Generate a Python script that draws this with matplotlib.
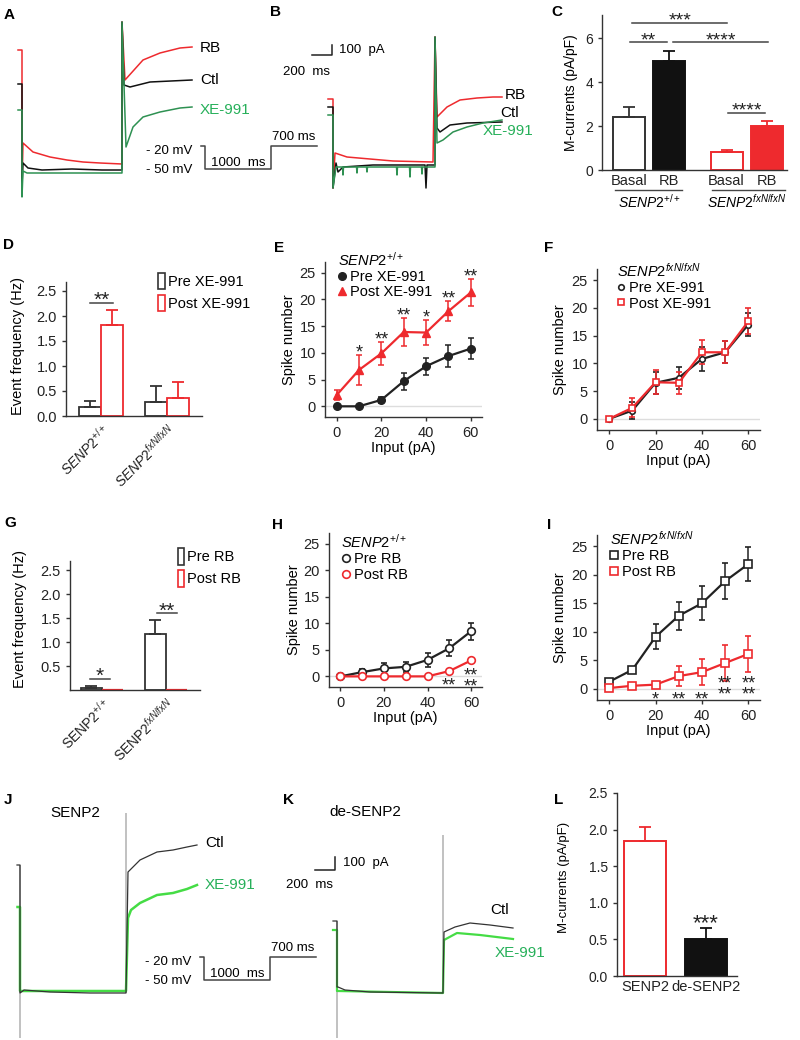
import numpy as np
import matplotlib
matplotlib.use('Agg')
import matplotlib.pyplot as plt
from matplotlib.patches import Patch
from matplotlib.lines import Line2D

plt.rcParams['font.family'] = ['Liberation Sans', 'DejaVu Sans']
plt.rcParams['mathtext.fontset'] = 'custom'
plt.rcParams['mathtext.rm'] = 'Liberation Sans'
plt.rcParams['mathtext.it'] = 'Liberation Sans:italic'
plt.rcParams['axes.linewidth'] = 1.0

RED = '#ee2a2e'
DARK = '#333333'
GREEN_DK = '#2e9152'
GREEN_TXT = '#27b05a'
GREEN_LT = '#45dc45'
GREY = '#b0b0b0'

WT = r'$\mathit{SENP2}^{\mathit{+/+}}$'
KO = r'$\mathit{SENP2}^{\mathit{fxN/fxN}}$'
WT_UP = r'SENP2$^{+/+}$'
KO_UP = r'SENP2$^{fxN/fxN}$'

# ---- traces (ms, pA) ----
# A: SENP2+/+ M-currents
a_red_t = [-40, 0, 0, 10, 110, 280, 450, 610, 780, 1000, 1000, 1030, 1210, 1380, 1580, 1700]
a_red_i = [1200, 1200, -150, 270, 180, 130, 100, 80, 70, 60, 1480, 900, 1100, 1170, 1220, 1230]
a_ctl_t = [-40, 0, 0, 10, 60, 200, 500, 800, 1000, 1000, 1020, 1080, 1280, 1700]
a_ctl_i = [860, 860, -150, 70, 20, 0, 10, 0, 0, 1480, 850, 830, 880, 900]
a_xe_t = [-40, 0, 0, 10, 50, 300, 1000, 1000, 1040, 1110, 1210, 1380, 1580, 1700]
a_xe_i = [600, 600, -270, -10, -30, -30, -30, 1480, 230, 430, 530, 580, 620, 630]

# B: SENP2fxN/fxN M-currents
b_red_t = [-50, 0, 0, 20, 140, 370, 600, 1000, 1020, 1040, 1140, 1270, 1440, 1600, 1690]
b_red_i = [660, 660, -230, 120, 80, 60, 40, 30, 1280, 480, 580, 650, 670, 680, 680]
b_ctl_t = [-50, 0, 0, 30, 50, 100, 400, 920, 930, 940, 1020, 1020, 1040, 1070, 1170, 1340, 1690]
b_ctl_i = [580, 580, -230, 20, -70, -20, 0, 0, -230, 0, 0, 1280, 370, 330, 400, 420, 430]
b_xe_t = [-50, 0, 0, 30, 60, 95, 100, 105, 235, 240, 245, 335, 340, 345, 635, 640, 645,
          765, 770, 775, 885, 890, 895, 1020, 1020, 1040, 1100, 1200, 1340, 1500, 1690]
b_xe_i = [500, 500, -230, -20, -20, -20, -100, -20, -20, -80, -20, -20, -70, -20, -20, -100, -20,
          -20, -120, -20, -20, -90, -20, -20, 1280, 220, 250, 330, 380, 420, 450]

# J: SENP2 rescue
j_ctl_t = [-30, 0, 0, 40, 300, 700, 1060, 1080, 1200, 1370, 1530, 1670, 1770]
j_ctl_i = [1280, 1280, 0, 30, 10, 0, 0, 1210, 1330, 1410, 1430, 1460, 1480]
j_xe_t = [-25, 0, 0, 400, 1060, 1080, 1110, 1200, 1370, 1530, 1670, 1770]
j_xe_i = [860, 860, 20, 20, 20, 750, 830, 900, 980, 1000, 1040, 1080]
j_cap_t = [0, 1060]
j_cap_lo = [-450, 0]
j_cap_hi = [1280, 1800]

# K: de-SENP2
k_ctl_t = [-40, 0, 0, 10, 80, 330, 1060, 1070, 1180, 1330, 1530, 1760]
k_ctl_i = [720, 720, 60, 60, 30, 10, 0, 610, 660, 700, 680, 650]
k_xe_t = [-40, 0, 0, 10, 1060, 1070, 1200, 1430, 1760]
k_xe_i = [630, 630, 20, 20, 0, 530, 600, 580, 540]
k_cap_t = [0, 1060]
k_cap_lo = [-450, 0]
k_cap_hi = [720, 1580]

# voltage protocol
prot_t = [-60, 0, 0, 1000, 1000, 1700]
prot_v = [-20, -20, -50, -50, -20, -20]

# ---- summary data ----
c_labels = ['Basal', 'RB', 'Basal', 'RB']
c_mean = [2.42, 4.95, 0.82, 2.02]
c_sem = [0.45, 0.47, 0.10, 0.22]

d_pre = [0.18, 0.28]
d_pre_sem = [0.12, 0.32]
d_post = [1.83, 0.36]
d_post_sem = [0.29, 0.32]

input_pa = [0, 10, 20, 30, 40, 50, 60]
e_pre = [0, 0, 1.2, 4.7, 7.5, 9.4, 10.8]
e_pre_sem = [0.2, 0.2, 0.5, 1.6, 1.6, 2.0, 2.0]
e_post = [2.1, 6.8, 9.9, 13.9, 13.8, 17.8, 21.3]
e_post_sem = [1.0, 2.8, 2.2, 2.6, 2.4, 1.9, 2.5]
e_stars = ['', '*', '**', '**', '*', '**', '**']

f_pre = [0, 1.5, 6.5, 7.4, 10.8, 12.0, 17.0]
f_pre_sem = [0.2, 1.5, 2.0, 2.0, 2.2, 2.0, 2.0]
f_post = [0, 2.0, 6.6, 6.5, 12.0, 12.0, 17.6]
f_post_sem = [0.3, 1.7, 2.2, 2.0, 2.2, 2.0, 2.3]

g_pre = [0.05, 1.17]
g_pre_sem = [0.03, 0.30]
g_post = [0.01, 0.01]

h_pre = [0, 0.8, 1.5, 1.8, 3.1, 5.3, 8.5]
h_pre_sem = [0.1, 0.5, 1.0, 1.0, 1.3, 1.5, 1.6]
h_post = [0, 0, 0, 0, 0, 1.0, 3.0]
h_post_sem = [0, 0, 0, 0, 0, 0.1, 0.2]
h_stars = ['', '', '', '', '', '**', '**\n**']

i_pre = [1.2, 3.3, 9.1, 12.8, 15.0, 18.9, 21.9]
i_pre_sem = [0.5, 0.4, 2.2, 2.5, 3.0, 3.2, 3.0]
i_post = [0.1, 0.5, 0.7, 2.2, 2.9, 4.5, 6.1]
i_post_sem = [0.1, 0.2, 0.3, 1.8, 2.3, 3.2, 3.1]
i_stars = ['', '', '*', '**', '**', '**\n**', '**\n**']

l_labels = ['SENP2', 'de-SENP2']
l_mean = [1.85, 0.50]
l_sem = [0.19, 0.16]

PX_MS = 0.1
PX_PA = 0.1
PROT_PX_MS = 0.066
PROT_PX_MV = 0.76

fig = plt.figure(figsize=(8, 10.4), dpi=100)


def px_axes(x0, y0, x1, y1):
    return fig.add_axes([x0 / 800, 1 - y1 / 1040, (x1 - x0) / 800, (y1 - y0) / 1040])


def trace_axes(x0, y0, x1, y1, xz, yz):
    ax = px_axes(x0, y0, x1, y1)
    ax.set_xlim((x0 - xz) / PX_MS, (x1 - xz) / PX_MS)
    ax.set_ylim((yz - y1) / PX_PA, (yz - y0) / PX_PA)
    ax.axis('off')
    return ax


def proto_axes(xz, yz):
    ax = px_axes(xz - 60, yz - 30, xz + 130, yz + 40)
    ax.set_xlim(-60 / PROT_PX_MS, 130 / PROT_PX_MS)
    ax.set_ylim(-20 - 40 / PROT_PX_MV, -20 + 30 / PROT_PX_MV)
    ax.axis('off')
    ax.plot(prot_t, prot_v, color='#444444', lw=1.1)
    ax.text(-190, -26, '- 20 mV', ha='right', va='center', fontsize=9.5)
    ax.text(-190, -52, '- 50 mV', ha='right', va='center', fontsize=9.5)
    ax.text(500, -42, '1000  ms', ha='center', va='center', fontsize=9.5)
    ax.text(1350, -8, '700 ms', ha='center', va='center', fontsize=9.5)


def style_axes(ax, size=10):
    for s in ['top', 'right']:
        ax.spines[s].set_visible(False)
    for s in ['left', 'bottom']:
        ax.spines[s].set_color(DARK)
    ax.tick_params(colors=DARK, labelcolor='#222222', labelsize=size, length=3, width=1)


def bar_err(color):
    return dict(ecolor=color, capsize=4.5, elinewidth=1.3, capthick=1.3)


def star(ax, x, y, s, size=13):
    # put the centre of the asterisk glyphs at (x, y); rows stacked tightly
    if s:
        ax.annotate(s, (x, y), xytext=(0, -0.32 * size), textcoords='offset points',
                    ha='center', va='center', fontsize=size, color='#222222',
                    linespacing=0.55, annotation_clip=False)


# ---- A ----
ax = trace_axes(10, 15, 260, 205, 22, 170)
ax.plot(a_red_t, a_red_i, color=RED, lw=1.1)
ax.plot(a_ctl_t, a_ctl_i, color='#111111', lw=1.1)
ax.plot(a_xe_t, a_xe_i, color=GREEN_DK, lw=1.1)
ax.text(1780, 1220, 'RB', fontsize=11, va='center')
ax.text(1780, 900, 'Ctl', fontsize=11, va='center')
ax.text(1780, 600, 'XE-991', fontsize=11, va='center', color=GREEN_TXT)
proto_axes(205, 146)

# ---- B ----
ax = trace_axes(275, 25, 530, 200, 333, 165)
ax.plot(b_red_t, b_red_i, color=RED, lw=1.1)
ax.plot(b_ctl_t, b_ctl_i, color='#111111', lw=1.1)
ax.plot(b_xe_t, b_xe_i, color=GREEN_DK, lw=1.1)
ax.plot([-210, -10, -10], [1100, 1100, 1200], color='#222222', lw=1.1)
ax.text(60, 1150, '100  pA', fontsize=9.5, va='center')
ax.text(-30, 930, '200  ms', fontsize=9.5, va='center', ha='right')
ax.text(1720, 700, 'RB', fontsize=11, va='center')
ax.text(1670, 520, 'Ctl', fontsize=11, va='center')
ax.text(1500, 340, 'XE-991', fontsize=11, va='center', color=GREEN_TXT)

# ---- C ----
ax = px_axes(602, 15, 787, 170)
style_axes(ax)
cx = np.array([0, 1, 2.44, 3.44])
ax.bar(cx[0], c_mean[0], 0.8, color='white', edgecolor=DARK, lw=1.4,
       yerr=[[0], [c_sem[0]]], error_kw=bar_err(DARK))
ax.bar(cx[1], c_mean[1], 0.8, color='#111111', edgecolor='#111111', lw=1.4,
       yerr=[[0], [c_sem[1]]], error_kw=bar_err('#111111'))
ax.bar(cx[2], c_mean[2], 0.8, color='white', edgecolor=RED, lw=1.4,
       yerr=[[0], [c_sem[2]]], error_kw=bar_err(RED))
ax.bar(cx[3], c_mean[3], 0.8, color=RED, edgecolor=RED, lw=1.4,
       yerr=[[0], [c_sem[3]]], error_kw=bar_err(RED))
ax.set_xlim(-0.675, 3.95)
ax.set_ylim(0, 7.05)
ax.set_yticks([0, 2, 4, 6])
ax.set_xticks(cx)
ax.set_xticklabels(c_labels, fontsize=10.5)
ax.tick_params(axis='x', length=0, pad=3)
ax.set_ylabel('M-currents (pA/pF)', fontsize=10)
ax.yaxis.set_label_coords(-0.13, 0.5)
for x0, x1, y, s in [(0.08, 2.45, 6.7, '***'), (0.02, 0.95, 5.8, '**'),
                     (1.1, 3.48, 5.8, '****'), (2.48, 3.4, 2.6, '****')]:
    ax.plot([x0, x1], [y, y], color='#444444', lw=1.1, clip_on=False)
    star(ax, (x0 + x1) / 2, y + 0.36, s, 14)
for x0, x1, xc, lab in [(-0.35, 1.33, 0.5, WT), (2.08, 3.9, 2.94, KO)]:
    ax.plot([x0, x1], [-0.9, -0.9], color='#444444', lw=1.0, clip_on=False)
    ax.text(xc, -1.05, lab, ha='center', va='top', fontsize=10)

# ---- D ----
ax = px_axes(66, 282, 202, 416)
style_axes(ax, 10.5)
gx = np.arange(2)
w = 0.34
ax.bar(gx - w / 2, d_pre, w, color='white', edgecolor=DARK, lw=1.3,
       yerr=[[0, 0], d_pre_sem], error_kw=bar_err(DARK))
ax.bar(gx + w / 2, d_post, w, color='white', edgecolor=RED, lw=1.3,
       yerr=[[0, 0], d_post_sem], error_kw=bar_err(RED))
ax.set_xlim(-0.53, 1.53)
ax.set_ylim(0, 2.68)
ax.set_yticks([0, 0.5, 1.0, 1.5, 2.0, 2.5])
ax.set_yticklabels(['0.0', '0.5', '1.0', '1.5', '2.0', '2.5'])
ax.set_xticks(gx)
ax.set_xticklabels([WT, KO], rotation=45, ha='right', rotation_mode='anchor', fontsize=10)
ax.tick_params(axis='x', length=0, pad=4)
ax.set_ylabel('Event frequency (Hz)', fontsize=10.5)
ax.yaxis.set_label_coords(-0.30, 0.52)
ax.plot([-0.16, 0.18], [2.26, 2.26], color='#444444', lw=1.1)
star(ax, 0.01, 2.44, '**', 15)
ax.legend(handles=[Patch(facecolor='white', edgecolor=DARK, lw=1.2, label='Pre XE-991'),
                   Patch(facecolor='white', edgecolor=RED, lw=1.2, label='Post XE-991')],
          loc='upper left', bbox_to_anchor=(0.68, 1.07), frameon=False, fontsize=10.5,
          handlelength=0.45, handleheight=1.4, handletextpad=0.2, borderpad=0,
          borderaxespad=0, labelspacing=0.35)


def spike_panel(ax, pre, pre_sem, post, post_sem, pre_kw, post_kw, title, labels, leg_xy):
    style_axes(ax, 10.5)
    ax.axhline(0, color='#dddddd', lw=1, zorder=0)
    ax.errorbar(input_pa, pre, yerr=pre_sem, color='#222222', lw=1.6, capsize=2,
                elinewidth=1.1, capthick=1.1, **pre_kw)
    ax.errorbar(input_pa, post, yerr=post_sem, color=RED, lw=1.6, capsize=2,
                elinewidth=1.1, capthick=1.1, **post_kw)
    ax.set_xlim(-5.2, 65)
    ax.set_ylim(-2, 27)
    ax.set_xticks([0, 20, 40, 60])
    ax.set_yticks([0, 5, 10, 15, 20, 25])
    ax.set_ylabel('Spike number', fontsize=10.5)
    ax.yaxis.set_label_coords(-0.185, 0.5)
    ax.set_xlabel('Input (pA)', fontsize=10.5, labelpad=1)
    h1 = Line2D([], [], ls='none', color='#222222', **pre_kw)
    h2 = Line2D([], [], ls='none', color=RED, **post_kw)
    ax.legend(handles=[h1, h2], labels=labels, title=title, loc='upper left',
              bbox_to_anchor=leg_xy, frameon=False, fontsize=10.5, title_fontsize=10.5,
              handlelength=0.6, handletextpad=0.25, borderpad=0, borderaxespad=0,
              labelspacing=0.1, alignment='left')


# ---- E ----
ax = px_axes(325, 262, 482, 417)
spike_panel(ax, e_pre, e_pre_sem, e_post, e_post_sem,
            dict(marker='o', ms=5.5, mfc='#222222', mec='#222222'),
            dict(marker='^', ms=5.5, mfc=RED, mec=RED),
            WT, ['Pre XE-991', 'Post XE-991'], (0.08, 1.075))
for x, m, s, st in zip(input_pa, e_post, e_post_sem, e_stars):
    star(ax, x, m + s + 1.4, st, 13)

# ---- F ----
ax = px_axes(597, 269, 760, 430)
spike_panel(ax, f_pre, f_pre_sem, f_post, f_post_sem,
            dict(marker='o', ms=4, mfc='white', mec='#222222', mew=1.2),
            dict(marker='s', ms=5, mfc='white', mec=RED, mew=1.2),
            KO, ['Pre XE-991', 'Post XE-991'], (0.12, 1.045))

# ---- G ----
ax = px_axes(70, 561, 200, 690)
style_axes(ax, 10.5)
w = 0.33
ax.bar(gx - w / 2, g_pre, w, color='white', edgecolor=DARK, lw=1.3,
       yerr=[[0, 0], g_pre_sem], error_kw=bar_err(DARK))
ax.bar(gx + w / 2, g_post, w, color='white', edgecolor=RED, lw=1.6)
ax.set_xlim(-0.5, 1.53)
ax.set_ylim(0, 2.69)
ax.set_yticks([0.5, 1.0, 1.5, 2.0, 2.5])
ax.set_xticks(gx)
ax.set_xticklabels([WT_UP, KO_UP], rotation=45, ha='right', rotation_mode='anchor', fontsize=10)
ax.tick_params(axis='x', length=0, pad=4)
ax.set_ylabel('Event frequency (Hz)', fontsize=10.5)
ax.yaxis.set_label_coords(-0.33, 0.55)
ax.plot([-0.19, 0.12], [0.23, 0.23], color='#444444', lw=1.1)
star(ax, -0.03, 0.42, '*', 15)
ax.plot([0.86, 1.17], [1.6, 1.6], color='#444444', lw=1.1)
star(ax, 1.01, 1.77, '**', 15)
ax.legend(handles=[Patch(facecolor='white', edgecolor=DARK, lw=1.2, label='Pre RB'),
                   Patch(facecolor='white', edgecolor=RED, lw=1.2, label='Post RB')],
          loc='upper left', bbox_to_anchor=(0.83, 1.1), frameon=False, fontsize=10.5,
          handlelength=0.45, handleheight=1.4, handletextpad=0.2, borderpad=0,
          borderaxespad=0, labelspacing=0.35)

# ---- H ----
ax = px_axes(329, 533, 482, 687)
spike_panel(ax, h_pre, h_pre_sem, h_post, h_post_sem,
            dict(marker='o', ms=5.5, mfc='white', mec='#222222', mew=1.2),
            dict(marker='o', ms=5.5, mfc='white', mec=RED, mew=1.2),
            WT, ['Pre RB', 'Post RB'], (0.08, 1.0))
for x, st in zip(input_pa, h_stars):
    star(ax, x, 0.2 if '\n' in st else -0.7, st, 13)

# ---- I ----
ax = px_axes(597, 535, 760, 700)
spike_panel(ax, i_pre, i_pre_sem, i_post, i_post_sem,
            dict(marker='s', ms=6, mfc='white', mec='#222222', mew=1.2),
            dict(marker='s', ms=6, mfc='white', mec=RED, mew=1.2),
            KO, ['Pre RB', 'Post RB'], (0.08, 1.03))
for x, st in zip(input_pa, i_stars):
    star(ax, x, 0.9 if '\n' in st else -0.9, st, 13)

# ---- J ----
ax = trace_axes(10, 800, 290, 1040, 20, 993)
ax.vlines(j_cap_t, j_cap_lo, j_cap_hi, color=GREY, lw=1.1)
ax.plot(j_xe_t, j_xe_i, color=GREEN_LT, lw=1.8)
ax.plot(j_ctl_t, j_ctl_i, color='#333333', lw=0.9)
ax.text(550, 1800, 'SENP2', fontsize=11, ha='center', va='center')
ax.text(1850, 1500, 'Ctl', fontsize=11, va='center')
ax.text(1850, 1080, 'XE-991', fontsize=11, va='center', color=GREEN_TXT)
proto_axes(204, 957)

# ---- K ----
ax = trace_axes(280, 800, 540, 1040, 337, 993)
ax.vlines(k_cap_t, k_cap_lo, k_cap_hi, color=GREY, lw=1.1)
ax.plot(k_xe_t, k_xe_i, color=GREEN_LT, lw=1.6)
ax.plot(k_ctl_t, k_ctl_i, color='#333333', lw=0.9)
ax.plot([-220, -20, -20], [1230, 1230, 1360], color='#222222', lw=1.1)
ax.text(60, 1300, '100  pA', fontsize=9.5, va='center')
ax.text(-40, 1080, '200  ms', fontsize=9.5, va='center', ha='right')
ax.text(280, 1810, 'de-SENP2', fontsize=11, ha='center', va='center')
ax.text(1530, 830, 'Ctl', fontsize=11, va='center')
ax.text(1580, 400, 'XE-991', fontsize=11, va='center', color=GREEN_TXT)

# ---- L ----
ax = px_axes(617, 793, 737, 976)
style_axes(ax, 10)
ax.bar(0, l_mean[0], 0.69, color='white', edgecolor=RED, lw=1.4,
       yerr=[[0], [l_sem[0]]], error_kw=bar_err(RED))
ax.bar(1, l_mean[1], 0.69, color='#111111', edgecolor='#111111', lw=1.4,
       yerr=[[0], [l_sem[1]]], error_kw=bar_err('#111111'))
ax.set_xlim(-0.46, 1.51)
ax.set_ylim(0, 2.5)
ax.set_yticks([0, 0.5, 1.0, 1.5, 2.0, 2.5])
ax.set_yticklabels(['0.0', '0.5', '1.0', '1.5', '2.0', '2.5'])
ax.set_xticks([0, 1])
ax.set_xticklabels(l_labels, fontsize=10.5)
ax.tick_params(axis='x', length=0, pad=3)
ax.set_ylabel('M-currents (pA/pF)', fontsize=9.5)
ax.yaxis.set_label_coords(-0.39, 0.54)
star(ax, 1, 0.81, '***', 16)

# panel letters
for lab, x, y in [('A', 4, 8), ('B', 270, 5), ('C', 551, 5), ('D', 3, 238), ('E', 274, 241),
                  ('F', 544, 241), ('G', 4, 516), ('H', 272, 518), ('I', 547, 518),
                  ('J', 4, 793), ('K', 283, 793), ('L', 554, 793)]:
    fig.text(x / 800, 1 - y / 1040, lab, fontsize=11, fontweight='bold', va='top', ha='left')

fig.savefig('out.png', dpi=100)
